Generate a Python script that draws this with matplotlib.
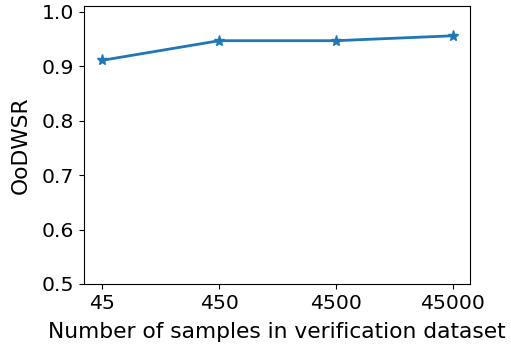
import numpy as np
import matplotlib.pyplot as plt

sizes = ['45', '450', '4500', '45000']
oodwsr = [0.911, 0.947, 0.947, 0.956]

fig = plt.figure(figsize=(5.11, 3.45), dpi=100)
ax = fig.add_axes([0.164, 0.177, 0.756, 0.806])
x = np.arange(len(sizes))
ax.plot(x, oodwsr, '*-', color='#1f77b4', linewidth=2, markersize=8)
ax.set_xticks(x)
ax.set_xticklabels(sizes)
ax.set_xlim(-0.16, 3.15)
ax.set_ylim(0.5, 1.011)
ax.set_yticks([0.5, 0.6, 0.7, 0.8, 0.9, 1.0])
ax.tick_params(labelsize=14.7)
ax.set_xlabel('Number of samples in verification dataset', fontsize=15.7, labelpad=7)
ax.set_ylabel('OoDWSR', fontsize=15.7, labelpad=8)
fig.savefig('out.png', dpi=100)
